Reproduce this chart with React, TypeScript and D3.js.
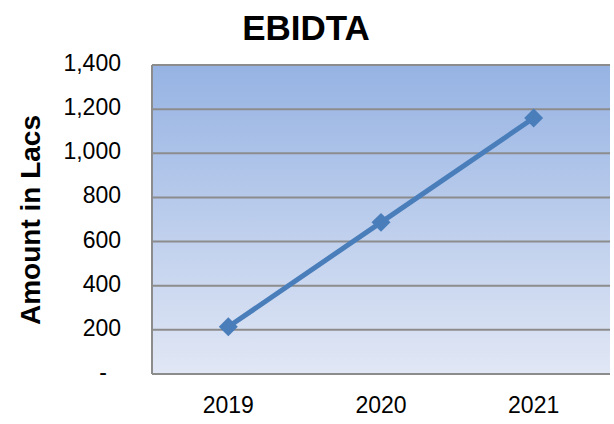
import { useEffect, useRef } from 'react';
import * as d3 from 'd3';

const years = ['2019', '2020', '2021'];
const ebitda = [214, 687, 1160];
const yTicks = [0, 200, 400, 600, 800, 1000, 1200, 1400];

const W = 614;
const H = 424;
const margin = { top: 65, right: 4, bottom: 50, left: 152 };
const FONT = '"Liberation Sans", Arial, sans-serif';

export default function App() {
  const svgRef = useRef<SVGSVGElement>(null);

  useEffect(() => {
    if (!svgRef.current) return;
    const svg = d3.select(svgRef.current);
    svg.selectAll('*').remove();

    const x = d3
      .scaleBand<string>()
      .domain(years)
      .range([margin.left, W - margin.right])
      .padding(0);
    const y = d3
      .scaleLinear()
      .domain([0, 1400])
      .range([H - margin.bottom, margin.top]);

    // background gradient
    const defs = svg.append('defs');
    const grad = defs
      .append('linearGradient')
      .attr('id', 'plotBg')
      .attr('x1', 0)
      .attr('y1', 0)
      .attr('x2', 0)
      .attr('y2', 1);
    grad.append('stop').attr('offset', '0%').attr('stop-color', '#96B3E3');
    grad.append('stop').attr('offset', '100%').attr('stop-color', '#E1E7F5');

    svg
      .append('rect')
      .attr('x', margin.left)
      .attr('y', y(1400))
      .attr('width', W - margin.right - margin.left)
      .attr('height', y(0) - y(1400))
      .attr('fill', 'url(#plotBg)');

    // gridlines
    svg
      .append('g')
      .selectAll('line')
      .data(yTicks)
      .enter()
      .append('line')
      .attr('x1', margin.left)
      .attr('x2', W - margin.right)
      .attr('y1', (d) => y(d))
      .attr('y2', (d) => y(d))
      .attr('stroke', '#8C8C8C')
      .attr('stroke-width', 2);

    // left axis line
    svg
      .append('line')
      .attr('x1', margin.left)
      .attr('x2', margin.left)
      .attr('y1', y(1400))
      .attr('y2', y(0))
      .attr('stroke', '#8C8C8C')
      .attr('stroke-width', 2);

    // y tick labels
    svg
      .append('g')
      .selectAll('text')
      .data(yTicks)
      .enter()
      .append('text')
      .attr('x', (d) => (d === 0 ? 107 : 121))
      .attr('y', (d) => y(d) + 6)
      .attr('text-anchor', 'end')
      .style('font-family', FONT)
      .style('font-size', '23px')
      .attr('fill', '#000')
      .text((d) => (d === 0 ? '-' : d3.format(',')(d)));

    // x tick labels
    svg
      .append('g')
      .selectAll('text')
      .data(years)
      .enter()
      .append('text')
      .attr('x', (d) => (x(d) ?? 0) + x.bandwidth() / 2)
      .attr('y', 413)
      .attr('text-anchor', 'middle')
      .style('font-family', FONT)
      .style('font-size', '23px')
      .attr('fill', '#000')
      .text((d) => d);

    // line
    const pts = years.map((yr, i) => ({ yr, v: ebitda[i] }));
    const line = d3
      .line<{ yr: string; v: number }>()
      .x((d) => (x(d.yr) ?? 0) + x.bandwidth() / 2)
      .y((d) => y(d.v));

    svg
      .append('path')
      .datum(pts)
      .attr('d', line)
      .attr('fill', 'none')
      .attr('stroke', '#4A7EBB')
      .attr('stroke-width', 5);

    const sym = d3.symbol().type(d3.symbolSquare).size(180);
    svg
      .append('g')
      .selectAll('path')
      .data(pts)
      .enter()
      .append('path')
      .attr('d', sym)
      .attr(
        'transform',
        (d) => `translate(${(x(d.yr) ?? 0) + x.bandwidth() / 2},${y(d.v)}) rotate(45)`
      )
      .attr('fill', '#4A7EBB');

    // title
    svg
      .append('text')
      .attr('x', 306)
      .attr('y', 40)
      .attr('text-anchor', 'middle')
      .style('font-family', FONT)
      .style('font-size', '35px')
      .style('font-weight', 'bold')
      .text('EBIDTA');

    // y axis title
    svg
      .append('text')
      .attr('transform', `translate(40, 220) rotate(-90)`)
      .attr('text-anchor', 'middle')
      .style('font-family', FONT)
      .style('font-size', '28px')
      .style('font-weight', 'bold')
      .text('Amount in Lacs');
  }, []);

  return (
    <div style={{ position: 'absolute', left: 0, top: 0 }}>
      <svg ref={svgRef} width={W} height={H} style={{ display: 'block', background: '#fff' }} />
    </div>
  );
}
